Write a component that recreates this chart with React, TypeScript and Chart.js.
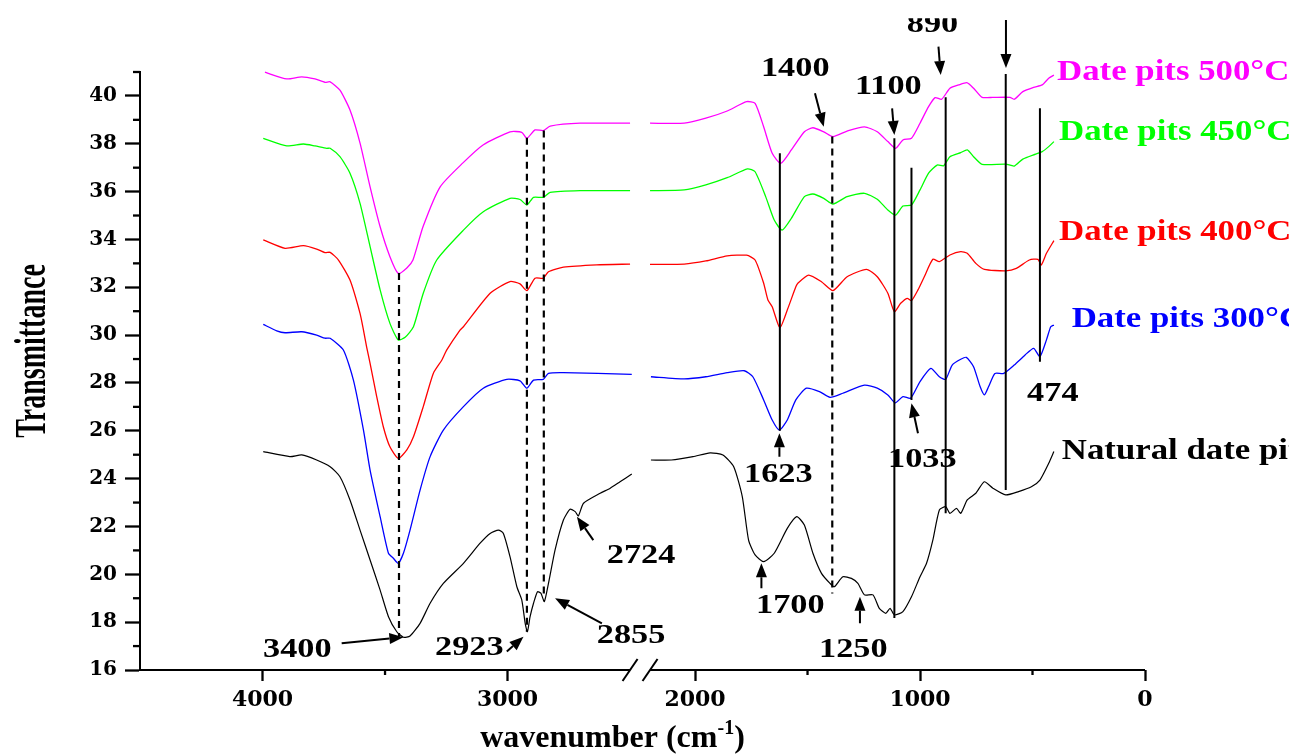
import React, { useEffect, useRef } from 'react';
import { Chart, registerables, LinearScale } from 'chart.js';

Chart.register(...registerables);

// ---------------- data ----------------
const naturalWn = [3997, 3888, 3840, 3779, 3724, 3684, 3643, 3602, 3561, 3520, 3486, 3452, 3425, 3398, 3357, 3316, 3262, 3180, 3112, 3071, 3037, 3017, 2990, 2962, 2942, 2928, 2919, 2908, 2894, 2878, 2864, 2850, 2833, 2806, 2772, 2745, 2724, 2711, 2690, 2622, 2581, 2541, 2493,
  2350,
  2196, 2105, 2009, 1933, 1876, 1828, 1790, 1762, 1733, 1695, 1648, 1590, 1548, 1514, 1476, 1438, 1400, 1381, 1343, 1305, 1276, 1247, 1209, 1181, 1152, 1133, 1114, 1076, 1038, 1000, 971, 943, 914, 886, 867, 838, 819, 790, 752, 714, 676, 619, 562, 505, 467, 428, 405];
const naturalT = [25.13, 24.92, 24.99, 24.78, 24.5, 24.08, 23.11, 21.85, 20.6, 19.34, 18.23, 17.6, 17.37, 17.42, 17.95, 18.79, 19.62, 20.46, 21.3, 21.71, 21.85, 21.71, 20.74, 19.48, 18.93, 17.95, 17.6, 18.23, 18.79, 19.27, 19.21, 18.86, 19.62, 21.02, 22.27, 22.72, 22.62, 22.44, 22.97, 23.39, 23.6, 23.87, 24.19,
  null,
  24.78, 24.78, 24.92, 25.08, 24.99, 24.5, 23.25, 21.43, 20.81, 20.53, 20.88, 21.92, 22.41, 22.06, 20.88, 20.04, 19.62, 19.48, 19.9, 19.83, 19.62, 19.14, 19.14, 18.58, 18.37, 18.58, 18.3, 18.44, 19.06, 19.9, 20.46, 21.43, 22.69, 22.83, 22.55, 22.76, 22.55, 23.11, 23.39, 23.87, 23.6, 23.32, 23.46, 23.66, 23.94, 24.64, 25.13];

const p300Wn = [3997, 3942, 3908, 3840, 3779, 3745, 3724, 3670, 3629, 3588, 3561, 3520, 3486, 3466, 3446, 3425, 3398, 3357, 3316, 3262, 3180, 3099, 3003, 2949, 2921, 2894, 2854, 2833, 2772, 2493,
  2350,
  2196, 2048, 1952, 1857, 1781, 1743, 1695, 1657, 1625, 1590, 1552, 1505, 1447, 1400, 1343, 1247, 1190, 1143, 1110, 1076, 1042, 1000, 952, 914, 886, 857, 819, 794, 762, 733, 714, 695, 667, 628, 581, 533, 495, 467, 438, 419, 405];
const p300T = [30.45, 30.18, 30.1, 30.14, 30.0, 29.87, 29.87, 29.38, 28.12, 26.03, 24.36, 22.41, 20.88, 20.67, 20.46, 20.88, 21.85, 23.52, 24.92, 26.03, 27.01, 27.78, 28.15, 28.09, 27.78, 28.12, 28.15, 28.4, 28.43, 28.36,
  null,
  28.26, 28.17, 28.26, 28.43, 28.51, 28.26, 27.29, 26.45, 26.03, 26.45, 27.29, 27.78, 27.64, 27.4, 27.57, 27.91, 27.78, 27.5, 27.17, 27.43, 27.36, 28.06, 28.61, 28.26, 28.15, 28.75, 28.99, 29.07, 28.68, 27.85, 27.5, 27.85, 28.4, 28.4, 28.75, 29.17, 29.45, 29.1, 29.8, 30.35, 30.42];

const p400Wn = [3997, 3908, 3833, 3779, 3745, 3724, 3690, 3643, 3602, 3588, 3575, 3561, 3534, 3507, 3480, 3446, 3411, 3384, 3344, 3303, 3268, 3248, 3194, 3180, 3071, 2990, 2949, 2921, 2888, 2854, 2833, 2772, 2636, 2500,
  2350,
  2200, 2048, 1952, 1857, 1771, 1733, 1695, 1676, 1657, 1623, 1590, 1552, 1543, 1495, 1438, 1387, 1324, 1238, 1190, 1143, 1114, 1086, 1057, 1038, 1009, 981, 943, 914, 867, 819, 790, 752, 714, 619, 572, 514, 476, 461, 438, 405];
const p400T = [33.98, 33.63, 33.74, 33.6, 33.45, 33.46, 33.14, 32.3, 30.91, 30.21, 29.5, 28.82, 27.43, 26.17, 25.33, 24.85, 25.2, 25.75, 27.01, 28.4, 28.96, 29.38, 30.21, 30.35, 31.75, 32.24, 32.14, 31.86, 32.38, 32.38, 32.65, 32.84, 32.94, 32.97,
  null,
  32.96, 32.97, 33.1, 33.31, 33.34, 33.14, 32.17, 31.47, 31.19, 30.31, 31.05, 32.02, 32.17, 32.51, 32.23, 31.86, 32.44, 32.75, 32.44, 31.75, 30.98, 31.33, 31.54, 31.44, 31.89, 32.44, 33.17, 33.07, 33.35, 33.49, 33.42, 33.0, 32.75, 32.69, 32.79, 33.14, 33.17, 32.93, 33.42, 33.95];

const p450Wn = [3997, 3901, 3833, 3786, 3738, 3724, 3684, 3643, 3602, 3561, 3520, 3480, 3446, 3418, 3384, 3344, 3289, 3180, 3099, 2990, 2949, 2921, 2894, 2854, 2826, 2704, 2500,
  2350,
  2200, 2048, 1952, 1857, 1767, 1733, 1686, 1648, 1613, 1572, 1514, 1476, 1428, 1387, 1324, 1247, 1190, 1143, 1108, 1076, 1038, 1000, 962, 924, 895, 867, 819, 790, 762, 724, 619, 581, 543, 486, 457, 428, 405];
const p450T = [38.23, 37.91, 37.99, 37.91, 37.81, 37.81, 37.46, 36.77, 35.51, 33.7, 31.89, 30.49, 29.8, 29.91, 30.35, 31.75, 33.14, 34.39, 35.16, 35.72, 35.67, 35.44, 35.76, 35.76, 35.97, 36.04, 36.04,
  null,
  36.04, 36.07, 36.28, 36.58, 36.95, 36.83, 35.79, 34.81, 34.39, 34.88, 35.79, 35.9, 35.72, 35.48, 35.79, 35.93, 35.68, 35.23, 35.02, 35.4, 35.44, 36.07, 36.77, 37.11, 37.08, 37.46, 37.63, 37.74, 37.46, 37.14, 37.15, 37.07, 37.36, 37.57, 37.67, 37.88, 38.09];

const p500Wn = [3990, 3901, 3840, 3786, 3745, 3724, 3684, 3643, 3602, 3561, 3520, 3480, 3446, 3411, 3386, 3345, 3275, 3182, 3100, 2990, 2942, 2921, 2888, 2854, 2826, 2704, 2500,
  2350,
  2200, 2048, 1952, 1857, 1771, 1733, 1695, 1657, 1619, 1572, 1514, 1476, 1428, 1387, 1324, 1247, 1190, 1143, 1108, 1076, 1038, 1000, 962, 933, 904, 867, 828, 790, 762, 724, 676, 600, 581, 543, 495, 457, 428, 405];
const p500T = [40.99, 40.71, 40.8, 40.71, 40.57, 40.59, 40.24, 39.41, 38.03, 36.2, 34.53, 33.28, 32.58, 32.81, 33.14, 34.53, 36.2, 37.2, 37.95, 38.5, 38.48, 38.23, 38.58, 38.55, 38.74, 38.86, 38.86,
  null,
  38.86, 38.86, 39.07, 39.37, 39.76, 39.69, 38.71, 37.6, 37.18, 37.74, 38.5, 38.67, 38.5, 38.3, 38.53, 38.71, 38.5, 38.09, 37.81, 38.16, 38.23, 38.86, 39.55, 39.93, 39.86, 40.32, 40.46, 40.55, 40.32, 39.94, 39.94, 39.94, 39.86, 40.18, 40.36, 40.46, 40.74, 40.87];

const seriesNames = ['Natural date pits', 'Date pits 300°C', 'Date pits 400°C', 'Date pits 450°C', 'Date pits 500°C'];
const seriesColors = ['#000000', '#0000FF', '#FF0000', '#00FF00', '#FF00FF'];
const nameWn = [370, 326, 382, 382, 391];
const nameT = [24.81, 30.34, 33.98, 38.16, 40.66];

const xTickValues = [4000, 3000, 2000, 1000, 0];
const xMinorValues = [3500, 1500, 500];
const yTickValues = [16, 18, 20, 22, 24, 26, 28, 30, 32, 34, 36, 38, 40];
const yMinorValues = [17, 19, 21, 23, 25, 27, 29, 31, 33, 35, 37, 39, 41];

// peak marker lines
const dashedWn = [3443, 2921, 2852, 1390];
const dashedTop = [32.6, 38.25, 38.55, 38.3];
const dashedBottom = [17.4, 17.6, 19.0, 19.2];
const solidWn = [1623, 1114, 1038, 886, 619, 467];
const solidTop = [37.6, 38.23, 37.0, 39.94, 40.92, 39.48];
const solidBottom = [26.0, 18.17, 27.29, 22.55, 23.53, 28.89];

// arrows (tail -> head)
const arrowFromWn = [3677, 3003, 2615, 2650, 1705, 1267, 1625, 1009, 1467, 1124, 918, 618];
const arrowFromT = [17.12, 16.77, 17.95, 21.43, 19.42, 17.95, 24.92, 25.9, 40.11, 39.48, 42.06, 43.17];
const arrowToWn = [3425, 2935, 2806, 2717, 1705, 1267, 1625, 1038, 1428, 1114, 908, 618];
const arrowToT = [17.37, 17.39, 19.0, 22.41, 20.46, 19.06, 25.9, 27.15, 38.71, 38.37, 40.87, 41.17];

// peak labels
const peakLabels = ['3400', '2923', '2855', '2724', '1700', '1250', '1623', '1033', '474', '1400', '1100', '890'];
const peakLabelWn = [3998, 3296, 2636, 2595, 1729, 1449, 1782, 1142, 524, 1707, 1289, 1059];
const peakLabelT = [16.56, 16.63, 17.12, 20.46, 18.4, 16.56, 23.87, 24.5, 27.25, 40.83, 40.07, 42.66];

// ---------------- broken x scale ----------------
const SEG1_HI = 4500;
const SEG1_LO = 2480;
const SEG2_HI = 2200;
const SEG_FRAC = 0.4925;

class BrokenScale extends LinearScale {
  static id = 'broken';
  static defaults = {};
  getPixelForValue(value: any) {
    if (value === null || value === undefined || Number.isNaN(value)) return NaN;
    let f: number;
    if (value >= SEG1_LO) f = ((SEG1_HI - value) / (SEG1_HI - SEG1_LO)) * SEG_FRAC;
    else if (value <= SEG2_HI) f = 1 - (value / SEG2_HI) * SEG_FRAC;
    else {
      const t = (SEG1_LO - value) / (SEG1_LO - SEG2_HI);
      f = SEG_FRAC + t * (1 - 2 * SEG_FRAC);
    }
    return this.getPixelForDecimal(f);
  }
  getValueForPixel(pixel: number) {
    const f = this.getDecimalForPixel(pixel);
    if (f <= SEG_FRAC) return SEG1_HI - (f / SEG_FRAC) * (SEG1_HI - SEG1_LO);
    if (f >= 1 - SEG_FRAC) return ((1 - f) / SEG_FRAC) * SEG2_HI;
    const t = (f - SEG_FRAC) / (1 - 2 * SEG_FRAC);
    return SEG1_LO - t * (SEG1_LO - SEG2_HI);
  }
}
Chart.register(BrokenScale as any);

function toPoints(wn: number[], t: (number | null)[]) {
  return wn.map((w, i) => ({ x: w, y: t[i] }));
}

function stretchText(ctx: CanvasRenderingContext2D, text: string, x: number, y: number, sx: number, font: string, color: string) {
  ctx.save();
  ctx.font = font;
  ctx.fillStyle = color;
  ctx.textAlign = 'left';
  ctx.textBaseline = 'alphabetic';
  ctx.translate(x, y);
  ctx.scale(sx, 1);
  ctx.fillText(text, 0, 0);
  ctx.restore();
}

function arrow(ctx: CanvasRenderingContext2D, x0: number, y0: number, x1: number, y1: number) {
  const ang = Math.atan2(y1 - y0, x1 - x0);
  const hl = 14;
  const hw = 5.5;
  const bx = x1 - hl * Math.cos(ang);
  const by = y1 - hl * Math.sin(ang);
  ctx.beginPath();
  ctx.moveTo(x0, y0);
  ctx.lineTo(bx, by);
  ctx.stroke();
  ctx.beginPath();
  ctx.moveTo(x1, y1);
  ctx.lineTo(bx + hw * Math.sin(ang), by - hw * Math.cos(ang));
  ctx.lineTo(bx - hw * Math.sin(ang), by + hw * Math.cos(ang));
  ctx.closePath();
  ctx.fill();
}

const decorPlugin = {
  id: 'decor',
  afterDraw(chart: any) {
    const ctx: CanvasRenderingContext2D = chart.ctx;
    const xs = chart.scales.x;
    const ys = chart.scales.y;
    const area = chart.chartArea;
    const px = (v: number) => xs.getPixelForValue(v);
    const py = (v: number) => ys.getPixelForValue(v);

    ctx.save();
    ctx.strokeStyle = '#000';
    ctx.fillStyle = '#000';
    ctx.lineCap = 'butt';

    // x axis line with break
    ctx.lineWidth = 2;
    ctx.beginPath();
    ctx.moveTo(area.left - 1, area.bottom);
    ctx.lineTo(px(2500), area.bottom);
    ctx.moveTo(px(2200), area.bottom);
    ctx.lineTo(area.right, area.bottom);
    ctx.stroke();
    [px(2500), px(2200)].forEach((cx) => {
      ctx.beginPath();
      ctx.moveTo(cx - 7.5, area.bottom + 11);
      ctx.lineTo(cx + 7.5, area.bottom - 11);
      ctx.stroke();
    });

    // minor ticks
    ctx.lineWidth = 2.3;
    yMinorValues.forEach((v) => {
      const y = py(v);
      ctx.beginPath();
      ctx.moveTo(area.left - 7, y);
      ctx.lineTo(area.left, y);
      ctx.stroke();
    });
    xMinorValues.forEach((v) => {
      const x = px(v);
      ctx.beginPath();
      ctx.moveTo(x, area.bottom);
      ctx.lineTo(x, area.bottom + 5);
      ctx.stroke();
    });

    // clip region for annotations (top of figure is cropped)
    ctx.beginPath();
    ctx.rect(0, py(43.25), chart.width, chart.height);
    ctx.clip();

    // dashed marker lines
    ctx.lineWidth = 2.2;
    ctx.setLineDash([7, 5]);
    dashedWn.forEach((w, i) => {
      ctx.beginPath();
      ctx.moveTo(px(w), py(dashedTop[i]));
      ctx.lineTo(px(w), py(dashedBottom[i]));
      ctx.stroke();
    });
    ctx.setLineDash([]);

    // solid marker lines
    ctx.lineWidth = 2;
    solidWn.forEach((w, i) => {
      ctx.beginPath();
      ctx.moveTo(px(w), py(solidTop[i]));
      ctx.lineTo(px(w), py(solidBottom[i]));
      ctx.stroke();
    });

    // arrows
    ctx.lineWidth = 2;
    arrowFromWn.forEach((w, i) => {
      arrow(ctx, px(w), py(arrowFromT[i]), px(arrowToWn[i]), py(arrowToT[i]));
    });

    // peak labels
    peakLabels.forEach((t, i) => {
      stretchText(ctx, t, px(peakLabelWn[i]), py(peakLabelT[i]), 1.27, 'bold 27px "Liberation Serif"', '#000');
    });

    // series names
    seriesNames.forEach((t, i) => {
      stretchText(ctx, t, px(nameWn[i]), py(nameT[i]), 1.16, 'bold 30px "Liberation Serif"', seriesColors[i]);
    });
    ctx.restore();

    // axis titles
    ctx.save();
    ctx.fillStyle = '#000';
    ctx.textBaseline = 'alphabetic';
    ctx.textAlign = 'left';
    const mainFont = 'bold 32px "Liberation Serif"';
    const supFont = 'bold 20px "Liberation Serif"';
    ctx.font = mainFont;
    const w1 = ctx.measureText('wavenumber (cm').width;
    const w3 = ctx.measureText(')').width;
    ctx.font = supFont;
    const w2 = ctx.measureText('-1').width;
    const total = w1 + w2 + w3;
    const cx = (area.left + area.right) / 2 - 30;
    let x0 = cx - total / 2;
    const base = area.bottom + 77;
    ctx.font = mainFont;
    ctx.fillText('wavenumber (cm', x0, base);
    ctx.font = supFont;
    ctx.fillText('-1', x0 + w1, base - 13);
    ctx.font = mainFont;
    ctx.fillText(')', x0 + w1 + w2, base);

    ctx.translate(area.left - 95, (area.top + area.bottom) / 2 - 20);
    ctx.rotate(-Math.PI / 2);
    ctx.scale(1, 1.55);
    ctx.textAlign = 'center';
    ctx.font = 'bold 28px "Liberation Serif"';
    ctx.fillText('Transmittance', 0, 0);
    ctx.restore();
  },
};

export default function App() {
  const canvasRef = useRef<HTMLCanvasElement | null>(null);

  useEffect(() => {
    const canvas = canvasRef.current;
    if (!canvas) return;
    const series = [
      { wn: naturalWn, t: naturalT, w: 1.2 },
      { wn: p300Wn, t: p300T, w: 1.3 },
      { wn: p400Wn, t: p400T, w: 1.3 },
      { wn: p450Wn, t: p450T, w: 1.3 },
      { wn: p500Wn, t: p500T, w: 1.3 },
    ];
    const chart = new Chart(canvas, {
      type: 'line',
      data: {
        datasets: series.map((s, i) => ({
          label: seriesNames[i],
          data: toPoints(s.wn, s.t),
          borderColor: seriesColors[i],
          backgroundColor: seriesColors[i],
          borderWidth: s.w,
          pointRadius: 0,
          tension: 0.2,
          spanGaps: false,
          fill: false,
          clip: false as any,
        })),
      },
      options: {
        animation: false,
        responsive: false,
        events: [],
        layout: { padding: { top: 72, right: 144, left: 0, bottom: 0 } },
        plugins: { legend: { display: false }, tooltip: { enabled: false } },
        scales: {
          x: {
            type: 'broken' as any,
            min: 0,
            max: 4500,
            afterBuildTicks: (scale: any) => {
              scale.ticks = xTickValues.map((v) => ({ value: v }));
            },
            afterFit: (scale: any) => {
              scale.height = 85;
            },
            ticks: {
              autoSkip: false,
              maxRotation: 0,
              padding: 6,
              color: '#000',
              font: { family: 'DejaVu Serif', weight: 'bold', size: 22 },
              callback: (v: any) => String(v),
            },
            grid: { drawOnChartArea: false, drawTicks: true, tickLength: 11, tickWidth: 2.3, tickColor: '#000' },
            border: { display: false },
          },
          y: {
            type: 'linear',
            min: 16,
            max: 41,
            afterBuildTicks: (scale: any) => {
              scale.ticks = yTickValues.map((v) => ({ value: v }));
            },
            afterFit: (scale: any) => {
              scale.width = 140;
            },
            ticks: {
              padding: 8,
              color: '#000',
              font: { family: 'DejaVu Serif', weight: 'bold', size: 20 },
              callback: (v: any) => String(v),
            },
            grid: { drawOnChartArea: false, drawTicks: true, tickLength: 15, tickWidth: 2.3, tickColor: '#000' },
            border: { display: true, width: 2, color: '#000' },
          },
        },
      },
      plugins: [decorPlugin],
    });
    return () => chart.destroy();
  }, []);

  return (
    <div style={{ position: 'absolute', left: 0, top: 0, width: 1289, height: 755, background: '#fff' }}>
      <canvas ref={canvasRef} width={1289} height={755} style={{ display: 'block' }} />
    </div>
  );
}
